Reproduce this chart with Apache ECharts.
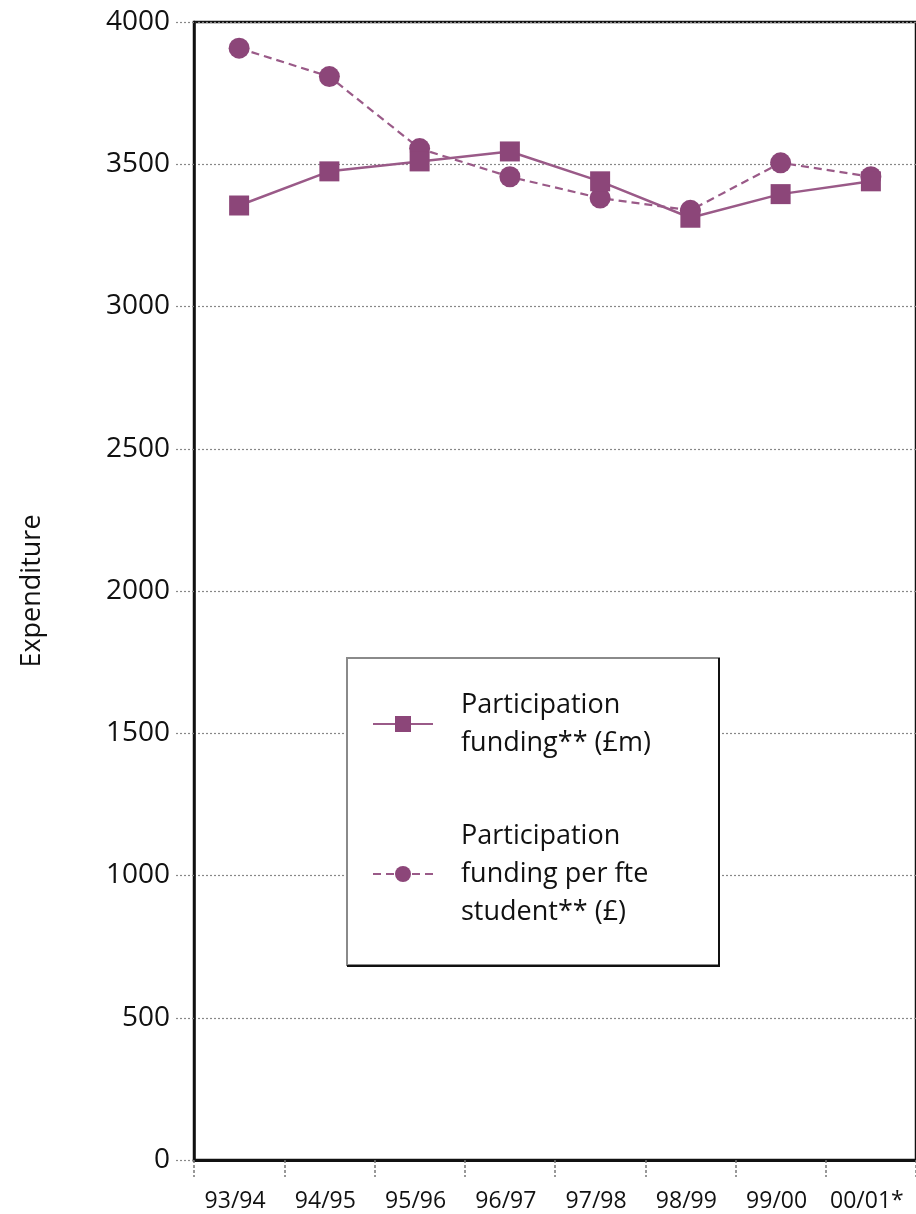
<!DOCTYPE html>
<html>
<head>
<meta charset="utf-8">
<style>
  html, body { margin: 0; padding: 0; background: #fff; }
  #chart { width: 916px; height: 1214px; }
</style>
<script src="https://cdn.jsdelivr.net/npm/echarts@6/dist/echarts.min.js"></script>
</head>
<body>
<div id="chart"></div>
<script>
// Academic years on the category axis
const years = ['93/94', '94/95', '95/96', '96/97', '97/98', '98/99', '99/00', '00/01*'];

// Participation funding (£m)
const fundingTotal = [3355, 3475, 3510, 3545, 3440, 3312, 3395, 3440];

// Participation funding per fte student (£)
const fundingPerStudent = [3908, 3808, 3555, 3456, 3381, 3338, 3505, 3456];

// Value axis ticks
const yMin = 0, yMax = 4000, yStep = 500;

const purple = '#8c4679';
const linePurple = '#9a5a88';
const font = '"Open Sans", "DejaVu Sans", sans-serif';

const chart = echarts.init(document.getElementById('chart'), null, { renderer: 'canvas' });

chart.setOption({
  backgroundColor: '#ffffff',
  animation: false,
  textStyle: { fontFamily: font, color: '#111' },
  grid: {
    left: 194, top: 22, width: 728, height: 1138,
    show: true, borderColor: '#111', borderWidth: 2.5, backgroundColor: 'transparent'
  },
  xAxis: {
    type: 'category',
    data: years,
    boundaryGap: true,
    axisLine: { show: true, onZero: false, lineStyle: { color: '#111', width: 3 } },
    axisTick: { show: true, interval: 0, length: 17, lineStyle: { color: '#777', width: 1.5, type: [3, 2] } },
    axisLabel: {
      interval: 0, hideOverlap: false,
      fontFamily: font, fontSize: 23, color: '#111', margin: 30, padding: [0, 8, 0, 0]
    },
    splitLine: { show: false }
  },
  yAxis: {
    type: 'value',
    min: yMin, max: yMax, interval: yStep,
    name: 'Expenditure',
    nameLocation: 'middle',
    nameGap: 148,
    nameRotate: 90,
    nameTextStyle: { fontFamily: font, fontSize: 27, color: '#111' },
    axisLine: { show: true, lineStyle: { color: '#111', width: 2.5 } },
    axisTick: { show: true, length: 18, lineStyle: { color: '#888', width: 1.2, type: [2, 2] } },
    axisLabel: {
      fontFamily: font, fontSize: 28, color: '#111', margin: 24,
      formatter: function (v) { return String(v); }
    },
    splitLine: { show: true, lineStyle: { color: '#888', width: 1.2, type: [2, 2] } }
  },
  legend: {
    orient: 'vertical',
    left: 372, top: 686,
    padding: 0,
    itemWidth: 60, itemHeight: 20,
    itemGap: 55,
    textStyle: { fontFamily: font, fontSize: 27, lineHeight: 38, color: '#111', padding: [0, 0, 0, 23] },
    formatter: function (name) {
      return name === 'funding' ? 'Participation\nfunding** (£m)' : 'Participation\nfunding per fte\nstudent** (£)';
    },
    data: ['funding', 'perStudent']
  },
  graphic: [
    {
      type: 'rect', z: 3,
      shape: { x: 347, y: 658, width: 372, height: 307 },
      style: { fill: '#fff', stroke: '#8a8a8a', lineWidth: 2 }
    },
    {
      type: 'polyline', z: 3,
      shape: { points: [[719, 658], [719, 966], [347, 966]] },
      style: { fill: null, stroke: '#111', lineWidth: 2 }
    }
  ],
  series: [
    {
      name: 'funding',
      type: 'line',
      data: fundingTotal,
      symbol: 'rect',
      symbolSize: 20,
      z: 3,
      lineStyle: { color: linePurple, width: 2.5, type: 'solid' },
      itemStyle: { color: purple }
    },
    {
      name: 'perStudent',
      type: 'line',
      data: fundingPerStudent,
      symbol: 'circle',
      symbolSize: 21,
      z: 2,
      lineStyle: { color: linePurple, width: 2.2, type: [8, 5] },
      itemStyle: { color: purple }
    }
  ]
});
</script>
</body>
</html>
